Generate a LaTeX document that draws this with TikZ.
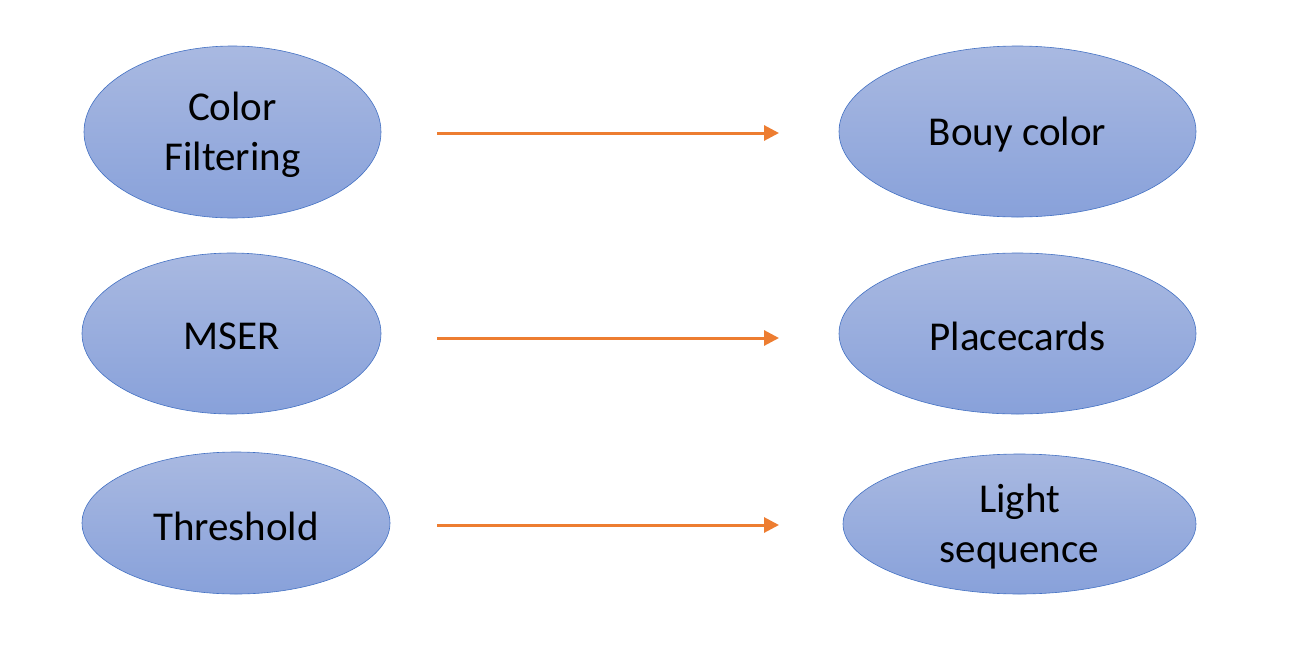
\documentclass[tikz,border=0pt]{standalone}
\usepackage{fontspec}
\setmainfont{Carlito}
\usetikzlibrary{shapes.geometric,arrows.meta}
\definecolor{ellborder}{HTML}{4472C4}
\definecolor{elltop}{HTML}{A9B9E1}
\definecolor{ellbot}{HTML}{88A1DA}
\definecolor{arr}{HTML}{ED7D31}
\newcommand\lowline[1]{\raisebox{-3pt}[\height][\depth]{#1}}
\tikzset{
  blob/.style={ellipse, draw=ellborder, line width=0.6pt, top color=elltop, bottom color=ellbot,
    inner sep=0pt, align=center, font=\fontsize{41}{50}\selectfont},
  flow/.style={draw=arr, line width=3pt, -{Triangle[length=15pt,width=15pt]}}
}
\begin{document}
\begin{tikzpicture}[x=1pt,y=-1pt]
\useasboundingbox (0,0) rectangle (1291,646);
\fill[white] (0,0) rectangle (1291,646);
\node[blob, minimum width=297pt, minimum height=172pt] (cf) at (232.5,132) {\lowline{Color}\\\lowline{Filtering}};
\node[blob, minimum width=357pt, minimum height=171pt] (bc) at (1017.5,131.5) {\lowline{Bouy color}};
\node[blob, minimum width=299pt, minimum height=161pt] (ms) at (231.5,333.5) {\lowline{MSER}};
\node[blob, minimum width=357pt, minimum height=161pt] (pc) at (1017.5,333.5) {\lowline{Placecards}};
\node[blob, minimum width=308pt, minimum height=142pt] (th) at (236,523) {\lowline{Threshold}};
\node[blob, minimum width=353pt, minimum height=140pt] (ls) at (1019.5,524) {\lowline{Light}\\\lowline{sequence}};
\coordinate (s1) at (437,133); \coordinate (e1) at (779,133);
\coordinate (s2) at (437,338); \coordinate (e2) at (779,338);
\coordinate (s3) at (437,525); \coordinate (e3) at (779,525);
\draw[flow] (s1) -- (e1);
\draw[flow] (s2) -- (e2);
\draw[flow] (s3) -- (e3);
\end{tikzpicture}
\end{document}
